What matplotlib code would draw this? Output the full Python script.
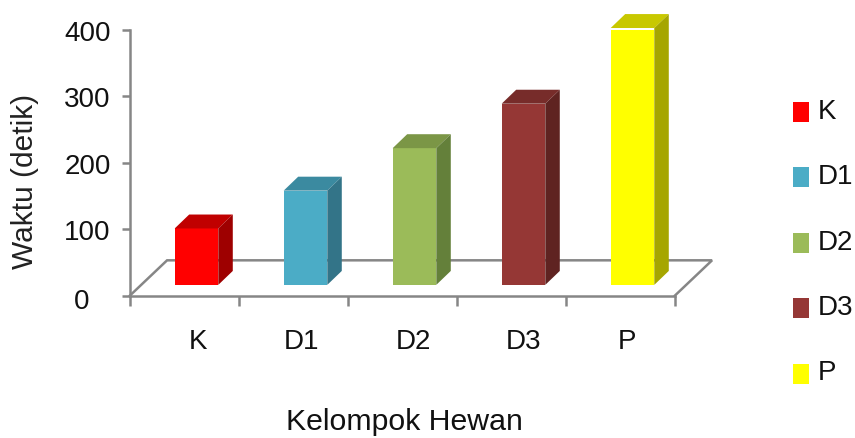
import matplotlib
matplotlib.use("Agg")
import matplotlib.pyplot as plt
from matplotlib.patches import Patch
from matplotlib.transforms import ScaledTranslation
import numpy as np

plt.rcParams['font.family'] = ['Liberation Sans', 'DejaVu Sans']

# ---------- Data ----------
categories = ['K', 'D1', 'D2', 'D3', 'P']
waktu = [85, 142, 206, 273, 387]
yticks = [0, 100, 200, 300, 400]
front_colors = ['#FF0000', '#4BACC6', '#9BBB59', '#953735', '#FFFF00']
top_colors = ['#C00000', '#3B8AA0', '#7B9646', '#772C2A', '#C8C800']
side_colors = ['#9E0000', '#337488', '#64803A', '#5F2321', '#A6A600']

# ---------- Layout constants ----------
W, H = 855, 439
GRAY = '#868686'
LW = 1.8
floor_dx, floor_dy = 0.34, 53     # floor depth, category units / value units
bar_dx, bar_dy = 0.133, 21        # bar depth
bar_lift = 16                     # front of the bars sits above the axis line
bar_width = 0.40
bar_shift = 0.61
label_px = [198, 301, 413, 523, 627]

fig = plt.figure(figsize=(W / 100, H / 100), dpi=100)
ax = fig.add_axes([130 / W, 1 - 296.5 / H, 545 / W, 265.5 / H])
ax.set_xlim(0, 5)
ax.set_ylim(0, 400)

# ---------- Floor ----------
ax.plot([0, floor_dx, 5 + floor_dx, 5], [0, floor_dy, floor_dy, 0],
        color=GRAY, lw=LW, clip_on=False, zorder=1, solid_joinstyle='miter')

# ---------- Bars ----------
x = np.arange(len(categories)) + bar_shift
ax.bar(x, waktu, width=bar_width, bottom=bar_lift, color=front_colors, zorder=3)
for xi, v, tc, sc in zip(x, waktu, top_colors, side_colors):
    left, right = xi - bar_width / 2, xi + bar_width / 2
    top = bar_lift + v
    ax.fill([left, left + bar_dx, right + bar_dx, right],
            [top, top + bar_dy, top + bar_dy, top],
            color=tc, lw=0, clip_on=False, zorder=3)
    ax.fill([right, right + bar_dx, right + bar_dx, right],
            [bar_lift, bar_lift + bar_dy, top + bar_dy, top],
            color=sc, lw=0, clip_on=False, zorder=3)

# ---------- Axes ----------
for side in ['top', 'right']:
    ax.spines[side].set_visible(False)
for side in ['left', 'bottom']:
    ax.spines[side].set_color(GRAY)
    ax.spines[side].set_linewidth(LW)

ax.set_yticks(yticks)
ax.set_yticklabels([str(t) for t in yticks], fontsize=20, color='#111111')
ax.set_xticks(range(6))
ax.set_xticklabels([])
ax.tick_params(axis='y', length=6, width=LW, color=GRAY, pad=8)
ax.tick_params(axis='x', length=7, width=LW, color=GRAY)

# the zero label sits further left than the others
ax.get_yticklabels()[0].set_transform(
    ax.get_yticklabels()[0].get_transform()
    + ScaledTranslation(-15 / 72, -2 / 72, fig.dpi_scale_trans))

for name, px in zip(categories, label_px):
    fig.text(px / W, 1 - 342 / H, name, fontsize=20, color='#111111',
             ha='center', va='center')

fig.text(25 / W, 1 - 181 / H, 'Waktu (detik)', fontsize=21.5, color='#222222',
         rotation=90, ha='center', va='center')
fig.text(404 / W, 1 - 422 / H, 'Kelompok Hewan', fontsize=21.8, color='#111111',
         ha='center', va='center')

# ---------- Legend ----------
handles = [Patch(facecolor=c, edgecolor='none', label=n)
           for c, n in zip(front_colors, categories)]
leg = fig.legend(handles=handles, loc='center left', bbox_to_anchor=(793 / W, 1 - 246.5 / H),
                 frameon=False, fontsize=20, labelcolor='#111111', labelspacing=1.42,
                 handlelength=0.58, handleheight=0.72, handletextpad=0.32,
                 borderpad=0, borderaxespad=0)
for t in leg.get_texts():
    t.set_y(4)

fig.savefig('out.png', dpi=100)
